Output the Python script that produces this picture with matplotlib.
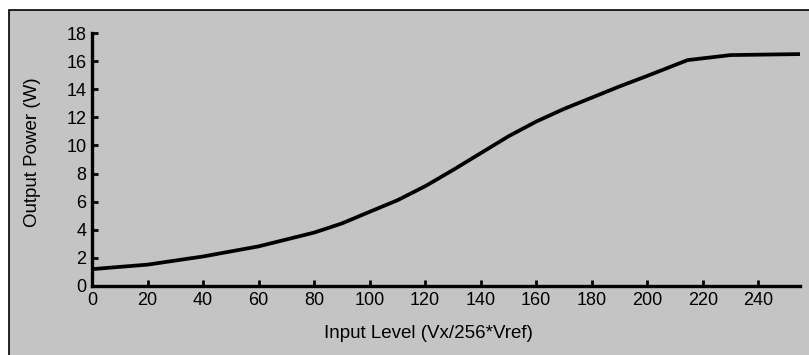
import numpy as np
import matplotlib.pyplot as plt
from matplotlib.patches import Rectangle

plt.rcParams['font.family'] = ['Liberation Sans', 'DejaVu Sans']

# values
input_level = [0, 20, 40, 60, 80, 90, 100, 110, 120, 130, 140, 150, 160, 170, 180, 190, 200, 214.5, 230, 255]
output_power = [1.2, 1.52, 2.1, 2.82, 3.8, 4.45, 5.28, 6.1, 7.1, 8.25, 9.45, 10.65, 11.7, 12.6, 13.4, 14.2, 14.95,
                16.07, 16.43, 16.5]
x_ticks = list(range(0, 241, 20))
y_ticks = list(range(0, 19, 2))

W, H = 809, 355
fig = plt.figure(figsize=(W / 100, H / 100), dpi=100)
fig.patch.set_facecolor('white')

# gray scanned panel with a border on top and left
panel = Rectangle((9 / W, -0.01), 1.0, (H - 10) / H + 0.01, transform=fig.transFigure,
                  facecolor='#c4c4c4', edgecolor='black', linewidth=1.2, zorder=-5)
fig.patches.append(panel)

ax = fig.add_axes([92 / W, 1 - 286 / H, (800 - 92) / W, (286 - 33) / H])
ax.set_facecolor('none')
ax.plot(input_level, output_power, color='black', linewidth=2.7,
        solid_capstyle='butt', solid_joinstyle='round')

ax.set_xlim(0, 255)
ax.set_ylim(0, 18)
ax.set_xticks(x_ticks)
ax.set_yticks(y_ticks)
for s in ['top', 'right']:
    ax.spines[s].set_visible(False)
for s in ['left', 'bottom']:
    ax.spines[s].set_linewidth(2.4)
ax.tick_params(direction='in', length=4, width=2, labelsize=13, pad=4, colors='black')

fig.text(428 / W, 1 - 333 / H, 'Input Level (Vx/256*Vref)', ha='center', va='center', fontsize=13.5)
fig.text(33 / W, 1 - 152 / H, 'Output Power (W)', ha='center', va='center', rotation=90, fontsize=13.5)

fig.savefig('out.png', dpi=100)
